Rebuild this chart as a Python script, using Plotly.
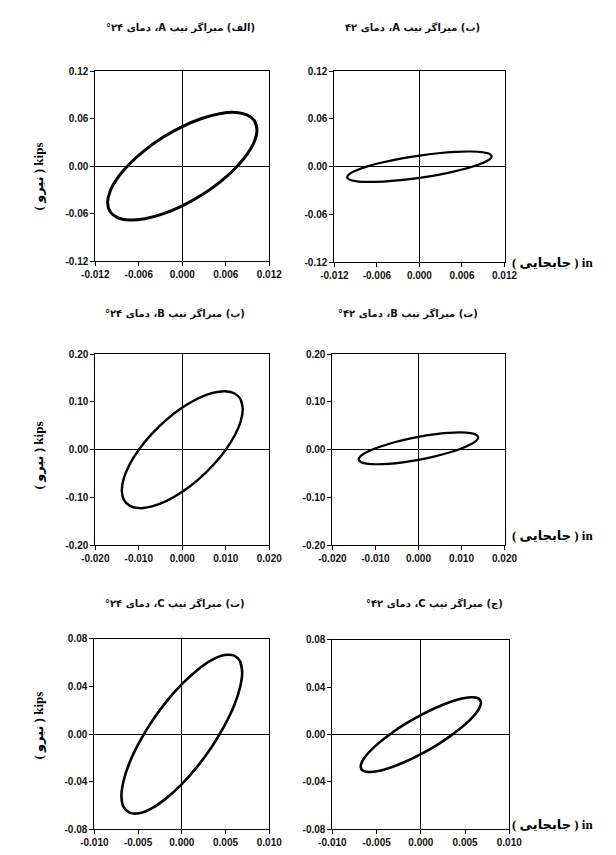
import plotly.graph_objects as go

W, H = 616, 855

# ---------------- data (displacement in, force kips), read around each loop ----------------
# (الف) Type A, 24°
a24_disp = [0.0103, 0.00995, 0.00892, 0.00728, 0.00515, 0.00267, 0.0, -0.00267, -0.00515, -0.00728, -0.00892, -0.00995,
            -0.0103, -0.00995, -0.00892, -0.00728, -0.00515, -0.00267, 0.0, 0.00267, 0.00515, 0.00728, 0.00892, 0.00995]
a24_force = [0.046, 0.0574, 0.0648, 0.0679, 0.0663, 0.0602, 0.050, 0.0364, 0.0203, 0.0028, -0.0148, -0.0315,
             -0.046, -0.0574, -0.0648, -0.0679, -0.0663, -0.0602, -0.050, -0.0364, -0.0203, -0.0028, 0.0148, 0.0315]
# (ب) Type A, 42°
a42_disp = [0.0102, 0.00985, 0.00883, 0.00721, 0.0051, 0.00264, 0.0, -0.00264, -0.0051, -0.00721, -0.00883, -0.00985,
            -0.0102, -0.00985, -0.00883, -0.00721, -0.0051, -0.00264, 0.0, 0.00264, 0.0051, 0.00721, 0.00883, 0.00985]
a42_force = [0.0130, 0.0162, 0.0183, 0.0191, 0.0186, 0.0169, 0.0140, 0.0102, 0.0056, 0.0007, -0.0043, -0.0089,
             -0.0130, -0.0162, -0.0183, -0.0191, -0.0186, -0.0169, -0.0140, -0.0102, -0.0056, -0.0007, 0.0043, 0.0089]
# (پ) Type B, 24°
b24_disp = [0.0139, 0.01343, 0.01204, 0.00983, 0.00695, 0.0036, 0.0, -0.0036, -0.00695, -0.00983, -0.01204, -0.01343,
            -0.0139, -0.01343, -0.01204, -0.00983, -0.00695, -0.0036, 0.0, 0.0036, 0.00695, 0.00983, 0.01204, 0.01343]
b24_force = [0.085, 0.1049, 0.1176, 0.1223, 0.1187, 0.107, 0.088, 0.063, 0.0337, 0.0021, -0.0296, -0.0593,
             -0.085, -0.1049, -0.1176, -0.1223, -0.1187, -0.107, -0.088, -0.063, -0.0337, -0.0021, 0.0296, 0.0593]
# (ت) Type B, 42°
b42_disp = [0.0139, 0.01343, 0.01204, 0.00983, 0.00695, 0.0036, 0.0, -0.0036, -0.00695, -0.00983, -0.01204, -0.01343,
            -0.0139, -0.01343, -0.01204, -0.00983, -0.00695, -0.0036, 0.0, 0.0036, 0.00695, 0.00983, 0.01204, 0.01343]
b42_force = [0.0258, 0.0312, 0.0347, 0.0360, 0.0350, 0.0319, 0.0268, 0.0200, 0.0120, 0.0035, -0.0052, -0.0133,
             -0.0203, -0.0257, -0.0292, -0.0305, -0.0295, -0.0264, -0.0213, -0.0145, -0.0065, 0.0020, 0.0107, 0.0188]
# (ث) Type C, 24°
c24_disp = [0.0069, 0.00666, 0.00598, 0.00488, 0.00345, 0.00179, 0.0, -0.00179, -0.00345, -0.00488, -0.00598, -0.00666,
            -0.0069, -0.00666, -0.00598, -0.00488, -0.00345, -0.00179, 0.0, 0.00179, 0.00345, 0.00488, 0.00598, 0.00666]
c24_force = [0.052, 0.0611, 0.0660, 0.0665, 0.0624, 0.0540, 0.042, 0.0271, 0.0104, -0.0071, -0.0240, -0.0394,
             -0.052, -0.0611, -0.0660, -0.0665, -0.0624, -0.0540, -0.042, -0.0271, -0.0104, 0.0071, 0.0240, 0.0394]
# (ج) Type C, 42°
c42_disp = [0.0068, 0.00657, 0.00589, 0.00481, 0.0034, 0.00176, 0.0, -0.00176, -0.0034, -0.00481, -0.00589, -0.00657,
            -0.0068, -0.00657, -0.00589, -0.00481, -0.0034, -0.00176, 0.0, 0.00176, 0.0034, 0.00481, 0.00589, 0.00657]
c42_force = [0.027, 0.0304, 0.0316, 0.0308, 0.0278, 0.0229, 0.0165, 0.0090, 0.0008, -0.0074, -0.0151, -0.0218,
             -0.027, -0.0304, -0.0316, -0.0308, -0.0278, -0.0229, -0.0165, -0.0090, -0.0008, 0.0074, 0.0151, 0.0218]

titles = ["(الف) میراگر تیپ A، دمای ۲۴°", "(ب) میراگر تیپ A، دمای ۴۲",
          "(پ) میراگر تیپ B، دمای ۲۴°", "(ت) میراگر تیپ B، دمای ۴۲°",
          "(ث) میراگر تیپ C، دمای ۲۴°", "(ج) میراگر تیپ C، دمای ۴۲°"]

x_ticks_A = [-0.012, -0.006, 0.0, 0.006, 0.012]
x_ticktext_A = ["-0.012", "-0.006", "0.000", "0.006", "0.012"]
y_ticks_A = [-0.12, -0.06, 0.0, 0.06, 0.12]
y_ticktext_A = ["-0.12", "-0.06", "0.00", "0.06", "0.12"]
x_ticks_B = [-0.020, -0.010, 0.0, 0.010, 0.020]
x_ticktext_B = ["-0.020", "-0.010", "0.000", "0.010", "0.020"]
y_ticks_B = [-0.20, -0.10, 0.0, 0.10, 0.20]
y_ticktext_B = ["-0.20", "-0.10", "0.00", "0.10", "0.20"]
x_ticks_C = [-0.010, -0.005, 0.0, 0.005, 0.010]
x_ticktext_C = ["-0.010", "-0.005", "0.000", "0.005", "0.010"]
y_ticks_C = [-0.08, -0.04, 0.0, 0.04, 0.08]
y_ticktext_C = ["-0.08", "-0.04", "0.00", "0.04", "0.08"]

y_label = "( نیرو ) kips"
x_label = "( جابجایی ) in"

# ---------------- layout helpers ----------------
def px_x(p):
    return p / W

def px_y(p):
    return 1 - p / H

panels = [
    (a24_disp, a24_force, (85, 267, 66, 259), (x_ticks_A, x_ticktext_A), (y_ticks_A, y_ticktext_A), 3.0),
    (a42_disp, a42_force, (335, 513, 66, 260), (x_ticks_A, x_ticktext_A), (y_ticks_A, y_ticktext_A), 2.2),
    (b24_disp, b24_force, (85, 267, 353, 547), (x_ticks_B, x_ticktext_B), (y_ticks_B, y_ticktext_B), 2.4),
    (b42_disp, b42_force, (333, 513, 353, 547), (x_ticks_B, x_ticktext_B), (y_ticks_B, y_ticktext_B), 2.2),
    (c24_disp, c24_force, (84, 267, 642, 835), (x_ticks_C, x_ticktext_C), (y_ticks_C, y_ticktext_C), 2.6),
    (c42_disp, c42_force, (333, 518, 643, 835), (x_ticks_C, x_ticktext_C), (y_ticks_C, y_ticktext_C), 2.6),
]

fig = go.Figure()
tickfont = dict(family="Arial, Liberation Sans", size=10, color="#111", weight="bold")

for i, (xs, ys, box, xt, yt, lw) in enumerate(panels):
    n = i + 1
    xa = "x" if n == 1 else f"x{n}"
    ya = "y" if n == 1 else f"y{n}"
    fig.add_trace(go.Scatter(
        x=list(xs) + [xs[0], xs[1]], y=list(ys) + [ys[0], ys[1]],
        mode="lines", line=dict(color="black", width=lw, shape="spline", smoothing=1.0),
        xaxis=xa, yaxis=ya, showlegend=False, hoverinfo="skip"))
    x0, x1, y0, y1 = box
    common = dict(showline=True, linecolor="black", linewidth=1, mirror=True,
                  zeroline=True, zerolinecolor="black", zerolinewidth=1,
                  showgrid=False, ticks="outside", ticklen=4, tickwidth=1,
                  tickcolor="black", tickfont=tickfont)
    xk = "xaxis" if n == 1 else f"xaxis{n}"
    yk = "yaxis" if n == 1 else f"yaxis{n}"
    fig.update_layout(**{
        xk: dict(domain=[px_x(x0), px_x(x1)], range=[xt[0][0], xt[0][-1]],
                 tickvals=xt[0], ticktext=xt[1], anchor=ya, **common),
        yk: dict(domain=[px_y(y1), px_y(y0)], range=[yt[0][0], yt[0][-1]],
                 tickvals=yt[0], ticktext=yt[1], anchor=xa, **common),
    })

annotations = []
title_pos = [(174, 22), (417, 22), (168, 312), (412, 312), (168, 606), (440, 606)]
for t, (cx, cy) in zip(titles, title_pos):
    annotations.append(dict(text="<b>\u202B" + t + "\u202C</b>", x=px_x(cx), y=px_y(cy),
                            xref="paper", yref="paper", showarrow=False,
                            xanchor="center", yanchor="middle",
                            font=dict(family="DejaVu Sans", size=10, color="#111")))
for cy in (173, 456, 730):
    annotations.append(dict(text="<b>" + y_label + "</b>", x=px_x(26), y=px_y(cy),
                            xref="paper", yref="paper", showarrow=False, textangle=-90,
                            xanchor="center", yanchor="middle",
                            font=dict(family="Liberation Serif, DejaVu Sans", size=13, color="black")))
for cy in (260, 537, 830):
    annotations.append(dict(text="<b>" + x_label + "</b>", x=px_x(519), y=px_y(cy),
                            xref="paper", yref="paper", showarrow=False,
                            xanchor="left", yanchor="middle",
                            font=dict(family="Liberation Serif, DejaVu Sans", size=13, color="black")))

fig.update_layout(width=W, height=H, margin=dict(l=0, r=0, t=0, b=0),
                  paper_bgcolor="white", plot_bgcolor="white", annotations=annotations)

fig.write_html("out.html")
